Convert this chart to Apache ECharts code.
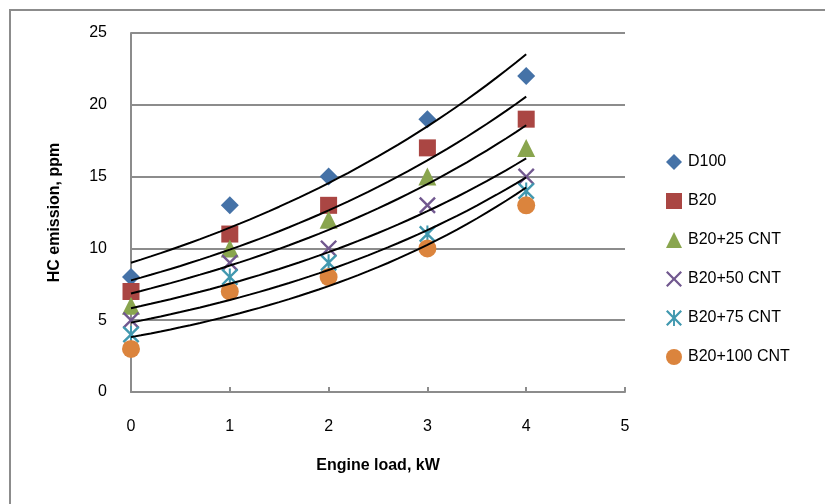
<!DOCTYPE html>
<html>
<head>
<meta charset="utf-8">
<script src="https://cdn.jsdelivr.net/npm/echarts@6/dist/echarts.min.js"></script>
<style>html,body{margin:0;padding:0;background:#fff}#c{width:825px;height:504px}</style>
</head>
<body>
<div id="c"></div>
<script>
const loads = [0, 1, 2, 3, 4];
const seriesNames = ['D100', 'B20', 'B20+25 CNT', 'B20+50 CNT', 'B20+75 CNT', 'B20+100 CNT'];
const d100 = [8, 13, 15, 19, 22];
const b20 = [7, 11, 13, 17, 19];
const b20c25 = [6, 10, 12, 15, 17];
const b20c50 = [5, 9, 10, 13, 15];
const b20c75 = [4, 8, 9, 11, 14];
const b20c100 = [3, 7, 8, 10, 13];
const yTicks = [0, 5, 10, 15, 20, 25];
const xTicks = [0, 1, 2, 3, 4, 5];

const allValues = [d100, b20, b20c25, b20c50, b20c75, b20c100];
const colors = ['#4572A7', '#AA4643', '#89A54E', '#71588F', '#4198AF', '#DB843D'];
const xPath = 'path://M0,1L1,0L5,4L9,0L10,1L6,5L10,9L9,10L5,6L1,10L0,9L4,5Z';
const starPath = 'path://M0,1L1,0L5,4L9,0L10,1L6,5L10,9L9,10L5,6L1,10L0,9L4,5Z M4.4,0L5.6,0L5.6,10L4.4,10Z';
const symbols = ['diamond', 'rect', 'triangle', xPath, starPath, 'circle'];
const sizes = [18, 17, 18, 17, 17, 18];

// Exponential trendline (least squares on ln y), as in the source spreadsheet
function expFit(xs, ys) {
  const n = xs.length;
  const ly = ys.map(v => Math.log(v));
  const mx = xs.reduce((a, b) => a + b, 0) / n;
  const my = ly.reduce((a, b) => a + b, 0) / n;
  let sxy = 0, sxx = 0;
  for (let i = 0; i < n; i++) { sxy += (xs[i] - mx) * (ly[i] - my); sxx += (xs[i] - mx) * (xs[i] - mx); }
  const b = sxy / sxx;
  const a = Math.exp(my - b * mx);
  const pts = [];
  for (let t = 0; t <= 40; t++) { const x = t / 10; pts.push([x, a * Math.exp(b * x)]); }
  return pts;
}

const series = [];
allValues.forEach((vals, i) => {
  series.push({
    name: seriesNames[i], type: 'scatter', z: 2,
    symbol: symbols[i], symbolSize: sizes[i],
    itemStyle: { color: colors[i], opacity: 1 },
    data: loads.map((x, j) => [x, vals[j]])
  });
});
allValues.forEach((vals, i) => {
  series.push({
    name: 'trend ' + seriesNames[i], type: 'line', z: 3, silent: true,
    showSymbol: false, symbol: 'none', smooth: false,
    lineStyle: { color: '#000', width: 2 },
    data: expFit(loads, vals)
  });
});

const chart = echarts.init(document.getElementById('c'), null, { renderer: 'canvas' });
chart.setOption({
  animation: false,
  backgroundColor: '#fff',
  textStyle: { fontFamily: 'Liberation Sans, Arial, sans-serif' },
  graphic: [{
    type: 'rect', shape: { x: 10, y: 10, width: 900, height: 600 },
    style: { fill: 'none', stroke: '#8c8c8c', lineWidth: 2 }, silent: true
  }],
  grid: { left: 131, right: 200, top: 33, bottom: 112 },
  legend: {
    orient: 'vertical', left: 661, top: 149,
    itemWidth: 16, itemHeight: 16, itemGap: 23,
    data: seriesNames,
    textStyle: { fontSize: 16, color: '#000', fontFamily: 'Liberation Sans, Arial, sans-serif', padding: [0, 0, 0, 1] }
  },
  xAxis: {
    type: 'value', min: xTicks[0], max: xTicks[xTicks.length - 1], interval: 1,
    name: 'Engine load, kW', nameLocation: 'middle', nameGap: 66,
    nameTextStyle: { fontSize: 16, fontWeight: 'bold', color: '#000' },
    axisLine: { show: true, onZero: false, lineStyle: { color: '#8c8c8c', width: 2 } },
    axisTick: { show: true, inside: true, length: 5, lineStyle: { color: '#8c8c8c', width: 2 } },
    axisLabel: { fontSize: 16, color: '#000', margin: 27 },
    splitLine: { show: false }
  },
  yAxis: {
    type: 'value', min: yTicks[0], max: yTicks[yTicks.length - 1], interval: 5,
    name: 'HC emission, ppm', nameLocation: 'middle', nameGap: 68, nameRotate: 90,
    nameTextStyle: { fontSize: 16, fontWeight: 'bold', color: '#000' },
    axisLine: { show: true, onZero: false, lineStyle: { color: '#8c8c8c', width: 2 } },
    axisTick: { show: false },
    axisLabel: { fontSize: 16, color: '#000', margin: 24 },
    splitLine: { show: true, lineStyle: { color: '#8c8c8c', width: 2 } }
  },
  series: series
});
</script>
</body>
</html>
